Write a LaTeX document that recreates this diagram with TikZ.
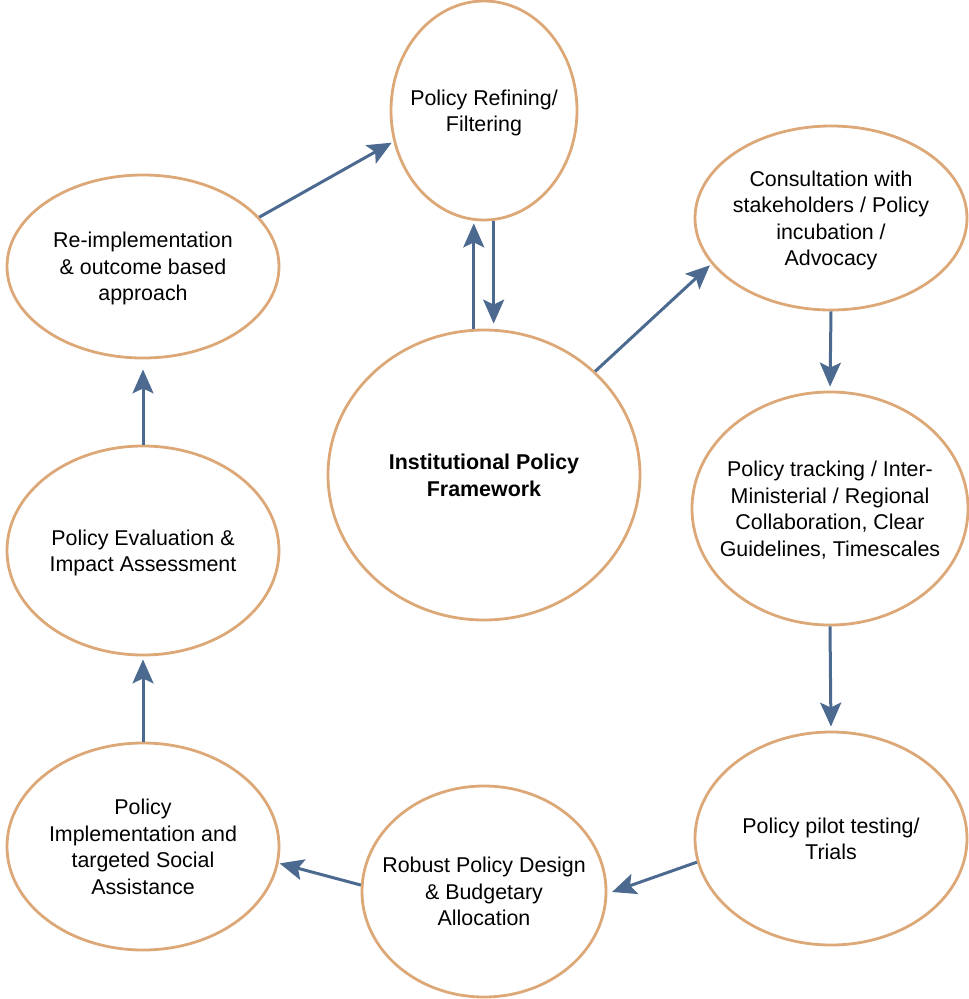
\documentclass[tikz,border=0pt]{standalone}
\usepackage{fontspec}
\setmainfont{Liberation Sans}
\usetikzlibrary{arrows.meta,shapes.geometric}
\definecolor{ringc}{HTML}{DDA878}
\definecolor{arrc}{HTML}{4C6A90}
\begin{document}
\begin{tikzpicture}[x=1pt,y=-1pt,
  ell/.style={ellipse,draw=ringc,line width=2.8pt,inner sep=-20pt,align=center,text depth=0pt,
    font=\fontsize{21.4}{26.5}\selectfont},
  conn/.style={draw=arrc,line width=3pt,-{Stealth[length=24pt,width=21pt,inset=5pt]},shorten >=2pt}]
\useasboundingbox (0,0) rectangle (969,999);
\node[ell,minimum width=186pt,minimum height=219pt] (ref) at (484,110.5) {Policy Refining/\\Filtering};
\node[ell,minimum width=272pt,minimum height=184pt] (con) at (831,218) {Consultation with\\stakeholders / Policy\\incubation /\\Advocacy};
\node[ell,minimum width=276pt,minimum height=233pt] (trk) at (830,508.5) {Policy tracking / Inter-\\Ministerial / Regional\\Collaboration, Clear\\Guidelines, Timescales};
\node[ell,minimum width=272pt,minimum height=213pt] (pil) at (831,838.5) {Policy pilot testing/\\Trials};
\node[ell,minimum width=244pt,minimum height=211pt] (rob) at (484,891.5) {Robust Policy Design\\\& Budgetary\\Allocation};
\node[ell,minimum width=272pt,minimum height=207pt] (imp) at (143,846.5) {Policy\\Implementation and\\targeted Social\\Assistance};
\node[ell,minimum width=272pt,minimum height=209pt] (eva) at (143,550.5) {Policy Evaluation \&\\Impact Assessment};
\node[ell,minimum width=272pt,minimum height=183pt] (rei) at (143,266.5) {Re-implementation\\\& outcome based\\approach};
\node[ell,minimum width=312pt,minimum height=290pt,font=\fontsize{21.4}{26.5}\selectfont\bfseries] (ins) at (484,475) {Institutional Policy\\Framework};
\draw[conn] (rei.23.2) -- (ref.199.7);
\draw[conn] (ins.94.7) -- (ins.94.7 |- ref.south);
\draw[conn,shorten >=5pt] (ref.275.3) -- (ref.275.3 |- ins.north);
\draw[conn] (ins.43.9) -- (con.201.3);
\draw[conn,shorten >=4pt] (con.south) -- (trk.north);
\draw[conn,shorten >=4pt] (trk.south) -- (pil.north);
\draw[conn,shorten >=5pt] (pil.190.6) -- (rob.359.1);
\draw[conn,shorten >=1pt] (rob.177.2) -- (imp.353.8);
\draw[conn,shorten >=3pt] (imp.north) -- (eva.south);
\draw[conn,shorten >=10pt] (eva.north) -- (rei.south);
\end{tikzpicture}
\end{document}
